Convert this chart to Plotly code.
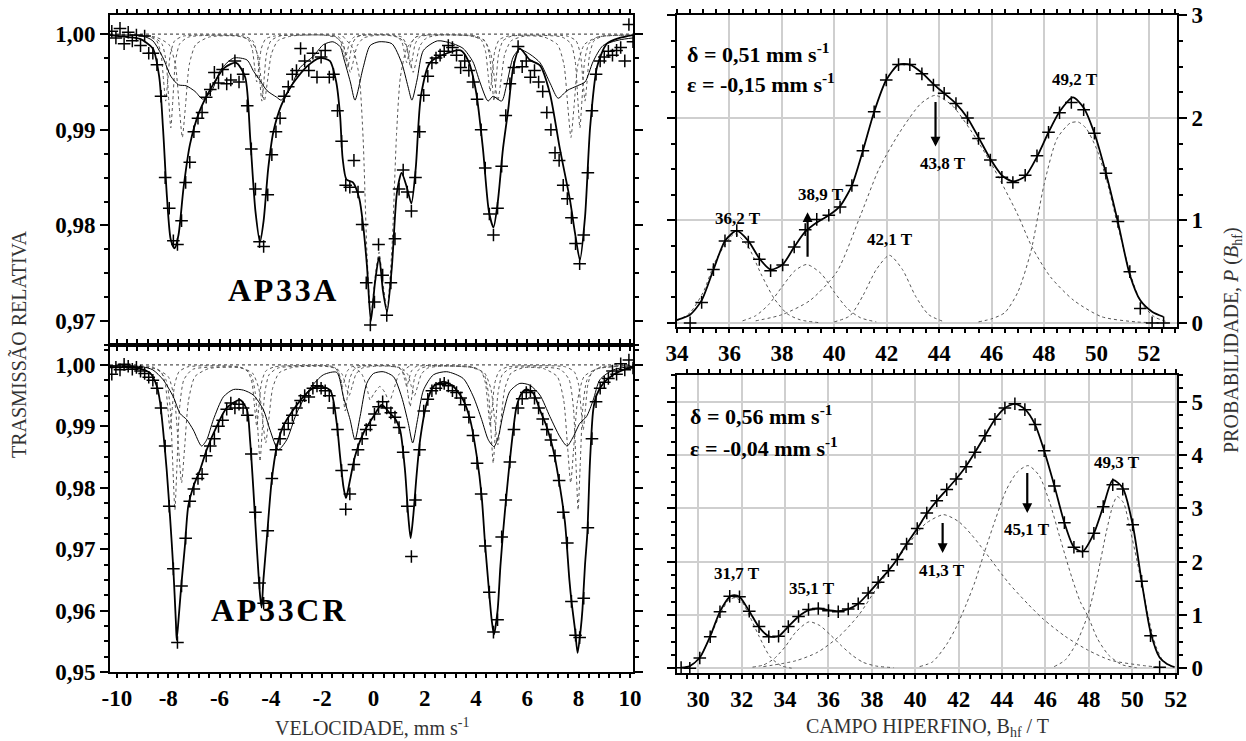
import plotly.graph_objects as go

# ---------------- Mossbauer spectra (velocity channels, mm/s) ----------------
V_CH = [-10.2, -10.04, -9.88, -9.72, -9.56, -9.4, -9.24, -9.08, -8.92, -8.76,
        -8.6, -8.44, -8.28, -8.12, -7.96, -7.8, -7.64, -7.48, -7.32, -7.16,
        -7.0, -6.84, -6.68, -6.52, -6.36, -6.2, -6.04, -5.88, -5.72, -5.56,
        -5.4, -5.24, -5.08, -4.92, -4.76, -4.6, -4.44, -4.28, -4.12, -3.96,
        -3.8, -3.64, -3.48, -3.32, -3.16, -3.0, -2.84, -2.68, -2.52, -2.36,
        -2.2, -2.04, -1.88, -1.72, -1.56, -1.4, -1.24, -1.08, -0.92, -0.76,
        -0.6, -0.44, -0.28, -0.12, 0.04, 0.2, 0.36, 0.52, 0.68, 0.84,
        1.0, 1.16, 1.32, 1.48, 1.64, 1.8, 1.96, 2.12, 2.28, 2.44,
        2.6, 2.76, 2.92, 3.08, 3.24, 3.4, 3.56, 3.72, 3.88, 4.04,
        4.2, 4.36, 4.52, 4.68, 4.84, 5.0, 5.16, 5.32, 5.48, 5.64,
        5.8, 5.96, 6.12, 6.28, 6.44, 6.6, 6.76, 6.92, 7.08, 7.24,
        7.4, 7.56, 7.72, 7.88, 8.04, 8.2, 8.36, 8.52, 8.68, 8.84,
        9.0, 9.16, 9.32, 9.48, 9.64, 9.8, 9.96, 10.12]

T_AP33A = [1.0003, .9996, 1.0006, .9990, 1.0002, .9993, .9999, .9988, .9998, .9980,
           .9980, .9968, .9935, .9850, .9818, .9784, .9780, .9805, .9845, .9866,
           .9898, .9912, .9918, .9934, .9942, .9960, .9949, .9963, .9948, .9952,
           .9972, .9950, .9958, .9925, .9880, .9838, .9783, .9778, .9832, .9874,
           .9898, .9912, .9935, .9945, .9958, .9962, .9985, .9972, .9962, .9980,
           .9955, .9976, .9983, .9955, .9958, .9920, .9888, .9842, .9840, .9868,
           .9835, .9801, .9740, .9696, .9720, .9780, .9748, .9706, .9740, .9786,
           .9838, .9858, .9835, .9815, .9850, .9898, .9936, .9956, .9970, .9975,
           .9978, .9982, .9988, .9986, .9978, .9965, .9972, .9962, .9950, .9932,
           .9900, .9860, .9812, .9790, .9818, .9862, .9915, .9948, .9965, .9987,
           .9966, .9972, .9955, .9962, .9950, .9940, .9918, .9900, .9876, .9868,
           .9842, .9828, .9808, .9781, .9760, .9790, .9855, .9920, .9958, .9972,
           .9976, .9982, .9978, .9983, .9986, .9972, 1.0010, .9992]

T_AP33CR = [.9985, .9996, .9992, 1.0001, .9998, .9993, .9996, .9990, .9986, .9980,
            .9975, .9962, .9930, .9868, .9770, .9668, .9548, .9640, .9718, .9778,
            .9798, .9815, .9822, .9852, .9868, .9880, .9900, .9910, .9928, .9938,
            .9930, .9936, .9930, .9918, .9855, .9760, .9645, .9612, .9730, .9815,
            .9862, .9880, .9895, .9905, .9918, .9930, .9942, .9950, .9948, .9962,
            .9966, .9962, .9958, .9950, .9930, .9895, .9828, .9765, .9790, .9838,
            .9862, .9880, .9895, .9902, .9920, .9932, .9940, .9930, .9922, .9915,
            .9898, .9858, .9770, .9688, .9780, .9862, .9925, .9944, .9958, .9962,
            .9968, .9970, .9966, .9958, .9955, .9946, .9935, .9915, .9885, .9840,
            .9790, .9705, .9630, .9565, .9585, .9720, .9780, .9842, .9895, .9930,
            .9945, .9955, .9958, .9946, .9930, .9912, .9895, .9878, .9852, .9812,
            .9760, .9710, .9615, .9560, .9556, .9620, .9735, .9880, .9940, .9962,
            .9972, .9978, .9990, .9985, 1.0002, .9992, 1.0008, .9995]

# total fits
FIT_A_V = [-10.27, -9.6, -9.1, -8.6, -8.35, -8.2, -8.05, -7.9, -7.75, -7.6, -7.4, -7.15, -6.8,
           -6.3, -5.8, -5.35, -5.0, -4.8, -4.6, -4.42, -4.28, -4.1, -3.9, -3.6, -3.2, -2.6,
           -2.1, -1.7, -1.45, -1.3, -1.2, -1.05, -0.8, -0.55, -0.4, -0.25, -0.1, 0.06, 0.22,
           0.37, 0.53, 0.72, 0.92, 1.1, 1.3, 1.48, 1.65, 1.85, 2.2, 2.87, 3.4, 3.7, 4.0,
           4.27, 4.5, 4.68, 4.85, 5.05, 5.25, 5.45, 5.7, 6.1, 6.5, 6.88, 7.27, 7.66, 7.86,
           8.05, 8.25, 8.45, 8.72, 9.1, 9.6, 10.12]
FIT_A_T = [.9999, .9997, .9995, .9985, .9955, .9900, .9830, .9785, .9776, .9790, .9840, .9885, .9918,
           .9945, .9965, .9970, .9955, .9890, .9815, .9783, .9805, .9860, .9898, .9925, .9946, .9966,
           .9975, .9972, .9950, .9915, .9870, .9848, .9845, .9828, .9800, .9757, .9700, .9740, .9767,
           .9732, .9710, .9757, .9835, .9855, .9840, .9823, .9860, .9935, .9970, .9980, .9983, .9972, .9940,
           .9880, .9815, .9798, .9825, .9880, .9920, .9965, .9985, .9973, .9967, .9938, .9880, .9827, .9792,
           .9764, .9809, .9903, .9966, .9990, .9996, .9999]

FIT_CR_V = [-10.27, -9.2, -8.71, -8.44, -8.32, -8.2, -8.06, -7.93, -7.8, -7.7, -7.67, -7.58, -7.48,
            -7.35, -7.22, -7.02, -6.76, -6.5, -6.11, -5.72, -5.2, -4.93, -4.81, -4.68, -4.55, -4.42,
            -4.36, -4.29, -4.16, -3.97, -3.77, -3.52, -3.12, -2.6, -2.21, -1.69, -1.43, -1.3, -1.17,
            -1.07, -0.91, -0.72, -0.39, 0.0, 0.32, 0.65, 0.84, 1.04, 1.23, 1.36, 1.45, 1.55, 1.69,
            1.82, 2.08, 2.34, 2.73, 3.12, 3.5, 3.77, 4.03, 4.22, 4.35, 4.48, 4.61, 4.7, 4.84, 4.95,
            5.06, 5.19, 5.32, 5.45, 5.58, 5.78, 5.97, 6.23, 6.49, 6.75, 7.01, 7.27, 7.47, 7.64, 7.73,
            7.86, 7.96, 8.08, 8.15, 8.25, 8.34, 8.44, 8.57, 8.7, 8.96, 9.35, 9.74, 10.12]
FIT_CR_T = [.9997, .9995, .9987, .9965, .9940, .9894, .9829, .9753, .9667, .9580, .9552, .9595, .9646,
            .9705, .9770, .9802, .9829, .9862, .9900, .9930, .9943, .9927, .9878, .9797, .9705, .9625,
            .9605, .9650, .9715, .9810, .9866, .9900, .9927, .9954, .9965, .9959, .9905, .9851, .9802,
            .9783, .9813, .9851, .9889, .9916, .9935, .9921, .9913, .9894, .9829, .9753, .9718, .9753, .9824,
            .9878, .9938, .9965, .9973, .9965, .9943, .9911, .9851, .9786, .9710, .9645, .9585, .9561, .9600, .9672,
            .9730, .9790, .9845, .9894, .9932, .9954, .9960, .9954, .9927, .9900, .9862, .9802, .9743, .9650, .9612,
            .9569, .9531, .9569, .9602, .9675, .9726, .9840, .9927, .9951, .9970, .9984, .9992, .9997]

# broad (distribution) sub-spectra, thin solid
DIST_A_V = [-10.27, -9.0, -8.6, -8.2, -7.9, -7.6, -7.3, -6.95, -6.65, -6.3, -5.95, -5.45, -4.93, -4.67,
            -4.48, -4.15, -3.77, -3.6, -3.25, -2.86, -2.34, -1.95, -1.58, -1.3, -1.15, -0.9, -0.72, -0.4,
            -0.13, 0.22, 0.72, 1.1, 1.35, 1.5, 1.7, 1.95, 2.5, 3.1, 3.5, 3.88, 4.15, 4.47, 4.66, 5.0, 5.2,
            5.45, 5.7, 6.1, 6.5, 6.9, 7.2, 7.55, 7.95, 8.25, 8.56, 8.95, 9.6, 10.12]
DIST_A_T = [.9999, .9998, .9993, .9975, .9956, .9947, .9946, .9940, .9932, .9941, .9963, .9975, .9973, .9961,
            .9954, .9941, .9934, .9931, .9943, .9965, .9977, .9989, .9992, .9987, .9974, .9950, .9931, .9965,
            .9988, .9992, .9990, .9970, .9945, .9931, .9952, .9983, .9993, .9990, .9985, .9971, .9950, .9930,
            .9935, .9930, .9948, .9976, .9984, .9979, .9970, .9948, .9933, .9941, .9946, .9950, .9971, .9988,
            .9994, .9996]

DIST_CR_V = [-10.27, -9.0, -8.6, -8.2, -7.8, -7.54, -7.28, -7.02, -6.7, -6.5, -6.24, -5.85, -5.46, -5.07,
             -4.68, -4.29, -4.03, -3.71, -3.38, -3.0, -2.47, -1.95, -1.43, -1.17, -0.91, -0.72, -0.52, -0.26,
             0.0, 0.38, 0.78, 1.1, 1.36, 1.53, 1.72, 1.95, 2.34, 2.86, 3.5, 3.9, 4.22, 4.48, 4.7, 4.87, 5.06,
             5.32, 5.71, 6.1, 6.49, 6.88, 7.27, 7.55, 7.79, 8.05, 8.31, 8.57, 8.83, 9.35, 10.12]
DIST_CR_T = [.9999, .9997, .9992, .9976, .9948, .9921, .9911, .9894, .9868, .9878, .9911, .9948, .9960, .9959,
             .9951, .9927, .9894, .9862, .9878, .9921, .9962, .9984, .9988, .9948, .9911, .9878, .9916, .9970,
             .9986, .9989, .9981, .9948, .9905, .9873, .9911, .9959, .9984, .9989, .9978, .9948, .9911, .9878,
             .9867, .9883, .9921, .9957, .9970, .9967, .9951, .9916, .9883, .9868, .9883, .9905, .9916, .9943,
             .9976, .9992, .9998]

# crystalline sextets and doublet, dotted
A_S1_V = [-10.27, -8.8, -8.45, -8.28, -8.18, -8.1, -8.02, -7.92, -7.75, -7.4,
          -5.25, -4.9, -4.73, -4.63, -4.55, -4.47, -4.37, -4.2, -3.85,
          -1.8, -1.45, -1.28, -1.18, -1.1, -1.02, -0.92, -0.75, -0.4,
          0.6, 0.95, 1.12, 1.22, 1.3, 1.38, 1.48, 1.65, 2.0,
          3.85, 4.2, 4.37, 4.47, 4.55, 4.63, 4.73, 4.9, 5.25,
          7.55, 7.9, 8.07, 8.17, 8.25, 8.33, 8.43, 8.6, 8.95, 10.12]
A_S1_T = [.9999, .9998, .9993, .9979, .9951, .9930, .9951, .9979, .9993, .9998,
          .9998, .9995, .9985, .9965, .9950, .9965, .9985, .9995, .9998,
          .9999, .9997, .9992, .9982, .9975, .9982, .9992, .9997, .9999,
          .9999, .9997, .9991, .9979, .9970, .9979, .9991, .9997, .9999,
          .9998, .9994, .9982, .9958, .9940, .9958, .9982, .9994, .9998,
          .9998, .9993, .9979, .9951, .9930, .9951, .9979, .9993, .9998, .9999]
A_S2_V = [-10.27, -8.6, -8.25, -8.08, -7.98, -7.9, -7.82, -7.72, -7.55, -7.2,
          -5.05, -4.7, -4.53, -4.43, -4.35, -4.27, -4.17, -4.0, -3.65,
          -1.7, -1.35, -1.18, -1.08, -1.0, -0.92, -0.82, -0.65, -0.3,
          0.75, 1.1, 1.27, 1.37, 1.45, 1.53, 1.63, 1.8, 2.15,
          4.0, 4.35, 4.52, 4.62, 4.7, 4.78, 4.88, 5.05, 5.4,
          7.35, 7.7, 7.87, 7.97, 8.05, 8.13, 8.23, 8.4, 8.75, 10.12]
A_S2_T = [.9999, .9997, .9990, .9971, .9931, .9902, .9931, .9971, .9990, .9997,
          .9998, .9993, .9979, .9951, .9930, .9951, .9979, .9993, .9998,
          .9999, .9997, .9990, .9976, .9965, .9976, .9990, .9997, .9999,
          .9999, .9997, .9990, .9976, .9965, .9976, .9990, .9997, .9999,
          .9998, .9993, .9979, .9951, .9930, .9951, .9979, .9993, .9998,
          .9997, .9990, .9971, .9931, .9902, .9931, .9971, .9990, .9997, .9999]
A_S3_V = [-10.27, -8.5, -7.97, -7.72, -7.57, -7.45, -7.33, -7.18, -6.93, -6.4,
          -5.3, -4.77, -4.52, -4.37, -4.25, -4.13, -3.98, -3.73, -3.2,
          -1.95, -1.42, -1.17, -1.02, -0.9, -0.78, -0.63, -0.38, 0.15,
          0.5, 1.03, 1.28, 1.43, 1.55, 1.67, 1.82, 2.07, 2.6,
          3.8, 4.33, 4.58, 4.73, 4.85, 4.97, 5.12, 5.37, 5.9,
          6.65, 7.18, 7.43, 7.58, 7.7, 7.82, 7.97, 8.22, 8.75, 10.12]
A_S3_T = [.9999, .9997, .9989, .9968, .9924, .9892, .9924, .9968, .9989, .9997,
          .9998, .9993, .9979, .9951, .9930, .9951, .9979, .9993, .9998,
          .9999, .9996, .9988, .9972, .9960, .9972, .9988, .9996, .9999,
          .9999, .9996, .9988, .9972, .9960, .9972, .9988, .9996, .9999,
          .9998, .9993, .9979, .9951, .9930, .9951, .9979, .9993, .9998,
          .9997, .9989, .9968, .9924, .9892, .9924, .9968, .9989, .9997, .9999]
A_DB_V = [-1.2, -0.8, -0.55, -0.4, -0.25, -0.1, 0.06, 0.22, 0.37, 0.53, 0.72, 0.9, 1.05, 1.3, 1.7]
A_DB_T = [.9998, .9985, .9955, .9890, .9770, .9705, .9745, .9772, .9740, .9712, .9775, .9895, .9955, .9985, .9998]

CR_S1_V = [-10.27, -8.63, -8.28, -8.11, -8.01, -7.93, -7.85, -7.75, -7.58, -7.23,
           -5.25, -4.9, -4.73, -4.63, -4.55, -4.47, -4.37, -4.2, -3.85,
           -1.9, -1.55, -1.38, -1.28, -1.2, -1.12, -1.02, -0.85, -0.5,
           0.6, 0.95, 1.12, 1.22, 1.3, 1.38, 1.48, 1.65, 2.0,
           3.85, 4.2, 4.37, 4.47, 4.55, 4.63, 4.73, 4.9, 5.25,
           7.48, 7.83, 8.0, 8.1, 8.18, 8.26, 8.36, 8.53, 8.88, 10.12]
CR_S1_T = [.9999, .9997, .9989, .9968, .9926, .9894, .9926, .9968, .9989, .9997,
           .9997, .9990, .9970, .9930, .9900, .9930, .9970, .9990, .9997,
           .9999, .9997, .9990, .9976, .9965, .9976, .9990, .9997, .9999,
           .9999, .9997, .9990, .9976, .9965, .9976, .9990, .9997, .9999,
           .9997, .9990, .9970, .9930, .9900, .9930, .9970, .9990, .9997,
           .9997, .9989, .9968, .9926, .9894, .9926, .9968, .9989, .9997, .9999]
CR_S2_V = [-10.27, -8.44, -8.09, -7.92, -7.82, -7.74, -7.66, -7.56, -7.39, -7.04,
           -5.12, -4.77, -4.6, -4.5, -4.42, -4.34, -4.24, -4.07, -3.72,
           -1.8, -1.45, -1.28, -1.18, -1.1, -1.02, -0.92, -0.75, -0.4,
           0.73, 1.08, 1.25, 1.35, 1.43, 1.51, 1.61, 1.78, 2.13,
           3.97, 4.32, 4.49, 4.59, 4.67, 4.75, 4.85, 5.02, 5.37,
           7.28, 7.63, 7.8, 7.9, 7.98, 8.06, 8.16, 8.33, 8.68, 10.12]
CR_S2_T = [.9999, .9993, .9976, .9929, .9835, .9764, .9835, .9929, .9976, .9993,
           .9995, .9984, .9953, .9890, .9843, .9890, .9953, .9984, .9995,
           .9998, .9993, .9978, .9948, .9925, .9948, .9978, .9993, .9998,
           .9998, .9993, .9980, .9952, .9932, .9952, .9980, .9993, .9998,
           .9995, .9984, .9952, .9888, .9840, .9888, .9952, .9984, .9995,
           .9993, .9976, .9929, .9835, .9764, .9835, .9929, .9976, .9993, .9999]
CR_S3_V = [-10.27, -8.53, -8.0, -7.75, -7.6, -7.48, -7.36, -7.21, -6.96, -6.43,
           -5.25, -4.72, -4.47, -4.32, -4.2, -4.08, -3.93, -3.68, -3.15,
           -2.0, -1.47, -1.22, -1.07, -0.95, -0.83, -0.68, -0.43, 0.1,
           0.55, 1.08, 1.33, 1.48, 1.6, 1.72, 1.87, 2.12, 2.65,
           3.8, 4.33, 4.58, 4.73, 4.85, 4.97, 5.12, 5.37, 5.9,
           6.64, 7.17, 7.42, 7.57, 7.69, 7.81, 7.96, 8.21, 8.74, 10.12]
CR_S3_T = [.9999, .9994, .9981, .9942, .9866, .9808, .9866, .9942, .9981, .9994,
           .9996, .9987, .9962, .9911, .9873, .9911, .9962, .9987, .9996,
           .9998, .9995, .9985, .9965, .9950, .9965, .9985, .9995, .9998,
           .9998, .9995, .9985, .9965, .9950, .9965, .9985, .9995, .9998,
           .9996, .9987, .9961, .9909, .9870, .9909, .9961, .9987, .9996,
           .9994, .9981, .9942, .9866, .9808, .9866, .9942, .9981, .9994, .9999]
CR_DB_V = [-0.8, -0.45, -0.25, -0.13, 0.0, 0.25, 0.45, 0.62, 0.78, 1.0, 1.4]
CR_DB_T = [.9998, .9985, .9962, .9943, .9952, .9965, .9955, .9940, .9958, .9985, .9998]

# ---------------- hyperfine field distributions ----------------
PA_B = [34.5, 34.94, 35.39, 35.83, 36.28, 36.72, 37.14, 37.57, 38.03, 38.47, 38.89, 39.33, 39.79,
        40.22, 40.67, 41.09, 41.52, 41.98, 42.45, 42.88, 43.34, 43.78, 44.19, 44.64, 45.08, 45.5,
        45.95, 46.39, 46.81, 47.28, 47.73, 48.17, 48.59, 49.04, 49.51, 49.92, 50.36, 50.82, 51.27,
        51.67, 52.12, 52.56]
PA_P = [0.0, 0.2, 0.52, 0.80, 0.90, 0.79, 0.62, 0.51, 0.565, 0.74, 0.91, 1.01, 1.05,
        1.13, 1.34, 1.68, 2.06, 2.37, 2.52, 2.52, 2.43, 2.32, 2.24, 2.14, 2.0, 1.80,
        1.59, 1.42, 1.37, 1.44, 1.63, 1.86, 2.05, 2.15, 2.08, 1.85, 1.46, 0.99, 0.50,
        0.14, 0.0, 0.0]
PA_FIT_B = [34.0, 34.5, 34.94, 35.39, 35.83, 36.28, 36.72, 37.14, 37.57, 38.03, 38.47, 38.89, 39.33,
            39.79, 40.22, 40.67, 41.09, 41.52, 41.98, 42.45, 42.88, 43.34, 43.78, 44.19, 44.64, 45.08,
            45.5, 45.95, 46.39, 46.81, 47.28, 47.73, 48.17, 48.59, 49.1, 49.51, 49.92, 50.36, 50.82,
            51.27, 51.67, 52.12, 52.55]
PA_FIT_P = [0.03, 0.08, 0.22, 0.52, 0.80, 0.90, 0.80, 0.63, 0.52, 0.57, 0.74, 0.89, 0.98,
            1.05, 1.14, 1.34, 1.68, 2.06, 2.37, 2.52, 2.52, 2.44, 2.33, 2.24, 2.14, 2.0,
            1.81, 1.60, 1.44, 1.38, 1.43, 1.62, 1.86, 2.06, 2.20, 2.1, 1.85, 1.46, 0.98,
            0.47, 0.22, 0.11, 0.06]
GA1_B = [34.0, 34.5, 35.0, 35.5, 36.2, 36.7, 37.2, 37.7, 38.2, 38.7, 39.5]
GA1_P = [0.02, 0.1, 0.3, 0.62, 0.87, 0.75, 0.48, 0.24, 0.09, 0.03, 0.0]
GA2_B = [36.5, 37.0, 37.5, 38.0, 38.5, 38.95, 39.5, 40.0, 40.5, 41.0, 41.6]
GA2_P = [0.02, 0.07, 0.18, 0.35, 0.51, 0.57, 0.48, 0.3, 0.14, 0.05, 0.01]
GA3_B = [40.0, 40.6, 41.1, 41.6, 42.1, 42.6, 43.1, 43.6, 44.2]
GA3_P = [0.01, 0.07, 0.27, 0.52, 0.66, 0.52, 0.26, 0.08, 0.01]
GA4_B = [37.0, 38.0, 39.08, 40.1, 41.0, 41.7, 42.47, 43.3, 43.85, 44.5, 45.2, 45.95, 46.97, 47.54,
         48.24, 49.13, 50.2, 51.5, 52.5]
GA4_P = [0.02, 0.08, 0.22, 0.5, 1.05, 1.5, 1.85, 2.14, 2.22, 2.12, 1.88, 1.57, 1.07, 0.74,
         0.45, 0.22, 0.06, 0.01, 0.0]
GA5_B = [45.5, 46.0, 46.5, 47.0, 47.5, 48.0, 48.5, 49.0, 49.3, 49.6, 50.0, 50.4, 50.8, 51.3, 51.7,
         52.2, 52.7]
GA5_P = [0.01, 0.04, 0.1, 0.3, 0.7, 1.35, 1.8, 1.95, 1.96, 1.9, 1.7, 1.38, 0.96, 0.47, 0.2,
         0.06, 0.01]

PC_B = [29.21, 29.61, 30.07, 30.55, 31.0, 31.45, 31.9, 32.35, 32.8, 33.25, 33.7, 34.15, 34.62,
        35.08, 35.53, 36.0, 36.45, 36.91, 37.37, 37.83, 38.29, 38.76, 39.17, 39.6, 40.09, 40.53,
        40.99, 41.45, 41.88, 42.34, 42.75, 43.21, 43.67, 44.13, 44.59, 45.05, 45.52, 45.94, 46.41,
        46.87, 47.31, 47.71, 48.23, 48.66, 49.1, 49.56, 50.02, 50.43, 50.84, 51.26]
PC_P = [0.01, 0.0, 0.19, 0.59, 1.06, 1.35, 1.34, 1.07, 0.78, 0.59, 0.6, 0.78, 0.97,
        1.10, 1.12, 1.08, 1.06, 1.11, 1.21, 1.41, 1.61, 1.83, 2.04, 2.33, 2.62, 2.91,
        3.14, 3.35, 3.55, 3.78, 4.05, 4.36, 4.67, 4.88, 4.96, 4.85, 4.57, 4.08, 3.42,
        2.73, 2.27, 2.19, 2.53, 3.03, 3.44, 3.36, 2.69, 1.63, 0.61, 0.02]
PC_FIT_B = [29.21, 29.61, 30.07, 30.55, 31.0, 31.45, 31.65, 31.9, 32.35, 32.8, 33.25, 33.7, 34.15,
            34.62, 35.08, 35.53, 36.0, 36.45, 36.91, 37.37, 37.83, 38.29, 38.76, 39.17, 39.6, 40.09,
            40.53, 40.99, 41.45, 41.88, 42.34, 42.75, 43.21, 43.67, 44.13, 44.59, 45.05, 45.52, 45.94,
            46.41, 46.87, 47.31, 47.71, 48.23, 48.66, 49.1, 49.56, 50.02, 50.43, 50.84, 51.26, 51.6, 51.95]
PC_FIT_P = [0.01, 0.04, 0.2, 0.6, 1.06, 1.34, 1.37, 1.34, 1.07, 0.77, 0.6, 0.6, 0.78,
            0.97, 1.09, 1.12, 1.09, 1.07, 1.11, 1.21, 1.40, 1.61, 1.83, 2.05, 2.33, 2.62,
            2.9, 3.14, 3.35, 3.55, 3.79, 4.05, 4.36, 4.67, 4.88, 4.96, 4.86, 4.57, 4.08,
            3.42, 2.73, 2.27, 2.19, 2.53, 3.03, 3.53, 3.38, 2.69, 1.63, 0.68, 0.2, 0.08, 0.02]
GC1_B = [29.5, 30.0, 30.5, 31.0, 31.4, 31.7, 32.0, 32.4, 32.8, 33.3, 33.8, 34.3]
GC1_P = [0.02, 0.15, 0.55, 1.0, 1.28, 1.32, 1.25, 0.95, 0.6, 0.22, 0.05, 0.0]
GC2_B = [32.5, 33.0, 33.5, 34.0, 34.5, 35.1, 35.6, 36.1, 36.6, 37.1, 37.6, 38.2, 39.0]
GC2_P = [0.02, 0.06, 0.18, 0.4, 0.68, 0.87, 0.8, 0.62, 0.42, 0.24, 0.11, 0.04, 0.01]
GC3_B = [33.0, 34.5, 35.5, 36.5, 37.4, 38.3, 39.1, 39.6, 40.1, 40.5, 41.3, 42.0, 42.6, 43.2, 44.3,
         45.2, 45.9, 46.9, 47.95, 49.0, 50.5, 51.5]
GC3_P = [0.03, 0.14, 0.3, 0.6, 1.0, 1.55, 2.0, 2.28, 2.55, 2.72, 2.88, 2.75, 2.5, 2.19, 1.6,
         1.2, 0.92, 0.6, 0.34, 0.15, 0.05, 0.01]
GC4_B = [40.2, 40.8, 41.45, 41.9, 42.35, 42.75, 43.2, 43.7, 44.2, 44.7, 45.2, 45.7, 46.2, 46.7, 47.2,
         47.6, 47.95, 48.4, 48.9, 49.5, 50.2]
GC4_P = [0.03, 0.12, 0.45, 0.78, 1.2, 1.62, 2.19, 2.8, 3.35, 3.68, 3.8, 3.62, 3.1, 2.4, 1.72,
         1.25, 0.98, 0.55, 0.25, 0.07, 0.01]
GC5_B = [46.4, 46.9, 47.4, 47.95, 48.4, 48.8, 49.1, 49.3, 49.6, 49.9, 50.2, 50.5, 50.8, 51.1, 51.4, 51.8]
GC5_P = [0.03, 0.15, 0.45, 1.0, 1.75, 2.55, 3.05, 3.22, 3.1, 2.6, 2.05, 1.45, 0.85, 0.4, 0.15, 0.03]

# ---------------- ticks ----------------
VEL_TICKS = [-10, -8, -6, -4, -2, 0, 2, 4, 6, 8, 10]
VEL_LABELS = ['-10', '-8', '-6', '-4', '-2', '0', '2', '4', '6', '8', '10']
TA_TICKS = [0.97, 0.98, 0.99, 1.00]
TA_LABELS = ['0,97', '0,98', '0,99', '1,00']
TC_TICKS = [0.95, 0.96, 0.97, 0.98, 0.99, 1.00]
TC_LABELS = ['0,95', '0,96', '0,97', '0,98', '0,99', '1,00']
BA_TICKS = [34, 36, 38, 40, 42, 44, 46, 48, 50, 52]
BC_TICKS = [30, 32, 34, 36, 38, 40, 42, 44, 46, 48, 50, 52]
PA_TICKS = [0, 1, 2, 3]
PC_TICKS = [0, 1, 2, 3, 4, 5]

FONT = 'Liberation Serif'
fig = go.Figure()


def curve(x, y, ax, width=1.0, dash='solid', color='black', smooth=0.7):
    fig.add_trace(go.Scatter(x=x, y=y, mode='lines', xaxis='x' + ax, yaxis='y' + ax,
                             line=dict(color=color, width=width, dash=dash, shape='spline', smoothing=smooth),
                             hoverinfo='skip', showlegend=False))


def crosses(x, y, ax):
    fig.add_trace(go.Scatter(x=x, y=y, mode='markers', xaxis='x' + ax, yaxis='y' + ax,
                             marker=dict(symbol='cross-thin', size=9, line=dict(width=1.5, color='black')),
                             hoverinfo='skip', showlegend=False))


DOT = '#555555'
# top-left: AP33A
for xv, yv in [(A_S1_V, A_S1_T), (A_S2_V, A_S2_T), (A_S3_V, A_S3_T), (A_DB_V, A_DB_T)]:
    curve(xv, yv, '', 1.0, 'dot', DOT, 0.6)
curve(DIST_A_V, DIST_A_T, '', 1.0)
curve(FIT_A_V, FIT_A_T, '', 1.8)
crosses(V_CH, T_AP33A, '')

# bottom-left: AP33CR
for xv, yv in [(CR_S1_V, CR_S1_T), (CR_S2_V, CR_S2_T), (CR_S3_V, CR_S3_T), (CR_DB_V, CR_DB_T)]:
    curve(xv, yv, '2', 1.0, 'dot', DOT, 0.6)
curve(DIST_CR_V, DIST_CR_T, '2', 1.0)
curve(FIT_CR_V, FIT_CR_T, '2', 1.8)
crosses(V_CH, T_AP33CR, '2')

# top-right: P(Bhf) AP33A
for xv, yv in [(GA1_B, GA1_P), (GA2_B, GA2_P), (GA3_B, GA3_P), (GA4_B, GA4_P), (GA5_B, GA5_P)]:
    curve(xv, yv, '3', 1.0, 'dot', DOT)
curve(PA_FIT_B, PA_FIT_P, '3', 1.8)
crosses(PA_B, PA_P, '3')

# bottom-right: P(Bhf) AP33CR
for xv, yv in [(GC1_B, GC1_P), (GC2_B, GC2_P), (GC3_B, GC3_P), (GC4_B, GC4_P), (GC5_B, GC5_P)]:
    curve(xv, yv, '4', 1.0, 'dot', DOT)
curve(PC_FIT_B, PC_FIT_P, '4', 1.8)
crosses(PC_B, PC_P, '4')

W, H = 1246, 741


def fx(px):
    return px / W


def fy(py):
    return 1 - py / H


XL = [fx(110), fx(633)]
XR = [fx(677), fx(1177)]
tickfont = dict(family=FONT, size=23, color='black', weight='bold')


def axis(domain, anchor, rng, tickvals, ticktext, minor_dt, showlabels=True, grid=False, side=None, ticklen=8):
    d = dict(domain=domain, anchor=anchor, range=rng, tickmode='array', tickvals=tickvals,
             ticktext=ticktext, showticklabels=showlabels, showline=True, linecolor='black',
             linewidth=2, mirror='ticks', ticks='outside', ticklen=ticklen, tickwidth=2,
             tickcolor='black', zeroline=False, showgrid=grid, gridcolor='#cfcfcf', gridwidth=1.5,
             tickfont=tickfont, automargin=False,
             minor=dict(tickmode='linear', tick0=0, dtick=minor_dt, ticks='outside', ticklen=min(4, ticklen),
                        tickwidth=1.5, tickcolor='black', showgrid=False))
    if side:
        d['side'] = side
    return d


fig.update_layout(
    width=W, height=H, autosize=False, margin=dict(l=0, r=0, t=0, b=0, pad=0),
    paper_bgcolor='white', plot_bgcolor='white', showlegend=False,
    xaxis=axis(XL, 'y', [-10.27, 10.12], VEL_TICKS, VEL_LABELS, 0.4, showlabels=False, ticklen=4),
    yaxis=axis([fy(345), fy(15)], 'x', [0.9675, 1.002], TA_TICKS, TA_LABELS, 0.0025),
    xaxis2=axis(XL, 'y2', [-10.27, 10.12], VEL_TICKS, VEL_LABELS, 0.4, ticklen=4),
    yaxis2=axis([fy(672), fy(345)], 'x2', [0.95, 1.00325], TC_TICKS, TC_LABELS, 0.0025),
    xaxis3=axis(XR, 'y3', [34.0, 53.07], BA_TICKS, [str(v) for v in BA_TICKS], 0.5, grid=True, ticklen=4),
    yaxis3=axis([fy(327), fy(15)], 'x3', [-0.04, 3.004], PA_TICKS, [str(v) for v in PA_TICKS],
                0.25, grid=True, side='right'),
    xaxis4=axis(XR, 'y4', [29.02, 52.06], BC_TICKS, [str(v) for v in BC_TICKS], 0.5, grid=True, ticklen=4),
    yaxis4=axis([fy(673), fy(375)], 'x4', [-0.09, 5.5], PC_TICKS, [str(v) for v in PC_TICKS],
                0.25, grid=True, side='right'),
)
fig.update_yaxes(ticklabeloverflow='allow')

# baselines
for xr, yr, yv, dash in [('x', 'y', 1.0, 'dot'), ('x2', 'y2', 1.0, 'dot'), ('x3', 'y3', 0, 'solid'), ('x4', 'y4', 0, 'solid')]:
    fig.add_shape(type='line', xref=xr + ' domain', yref=yr, x0=0, x1=1, y0=yv, y1=yv,
                  line=dict(color='#333333' if dash == 'solid' else DOT, width=1.2, dash=dash), layer='below')

ann = []
title_font = dict(family=FONT, size=20, color='#333333')
for txt, px, py, ang in [('TRASMISSÃO RELATIVA', 18, 345, -90),
                         ('VELOCIDADE, mm s<sup>-1</sup>', 372, 727, 0),
                         ('CAMPO HIPERFINO, B<sub>hf</sub> / T', 927, 727, 0),
                         ('PROBABILIDADE, <i>P</i> (<i>B</i><sub>hf</sub>)', 1232, 340, -90)]:
    ann.append(dict(text=txt, x=fx(px), y=fy(py), xref='paper', yref='paper', xanchor='center',
                    yanchor='middle', textangle=ang, showarrow=False, font=title_font))

big = dict(family=FONT, size=32, color='black', weight='bold')
ann.append(dict(text='A\u200aP\u200a3\u200a3\u200aA', x=-3.56, y=0.97325, xref='x', yref='y',
                showarrow=False, font=big))
ann.append(dict(text='A\u200aP\u200a3\u200a3\u200aC\u200aR', x=-3.72, y=0.96016, xref='x2', yref='y2',
                showarrow=False, font=big))

par = dict(family=FONT, size=22, color='black', weight='bold')
for txt, x, y, ax in [('δ = 0,51 mm s<sup>-1</sup>', 34.31, 2.63, '3'),
                      ('ε = -0,15 mm s<sup>-1</sup>', 34.31, 2.34, '3'),
                      ('δ = 0,56 mm s<sup>-1</sup>', 29.53, 4.75, '4'),
                      ('ε = -0,04 mm s<sup>-1</sup>', 29.53, 4.15, '4')]:
    ann.append(dict(text=txt, x=x, y=y, xref='x' + ax, yref='y' + ax, xanchor='left',
                    showarrow=False, font=par))

lab = dict(family=FONT, size=17, color='black', weight='bold')
for txt, x, y, ax in [('36,2 T', 36.34, 1.02, '3'), ('38,9 T', 39.5, 1.25, '3'), ('42,1 T', 42.13, 0.81, '3'),
                      ('43,8 T', 44.15, 1.56, '3'), ('49,2 T', 49.17, 2.37, '3'),
                      ('31,7 T', 31.77, 1.78, '4'), ('35,1 T', 35.23, 1.5, '4'), ('41,3 T', 41.22, 1.84, '4'),
                      ('45,1 T', 45.13, 2.6, '4'), ('49,3 T', 49.28, 3.85, '4')]:
    ann.append(dict(text=txt, x=x, y=y, xref='x' + ax, yref='y' + ax, showarrow=False, font=lab))

# arrows: (x, head y, tail y)
for x, yh, yt, ax in [(38.98, 1.08, 0.63, '3'), (43.86, 1.72, 2.17, '3'),
                      (41.26, 2.16, 2.75, '4'), (45.16, 2.91, 3.69, '4')]:
    ann.append(dict(text='', x=x, y=yh, ax=x, ay=yt, xref='x' + ax, yref='y' + ax,
                    axref='x' + ax, ayref='y' + ax, showarrow=True, arrowhead=2, arrowsize=0.9,
                    arrowwidth=2.2, arrowcolor='black'))

fig.update_layout(annotations=ann)
# drop the browser's default 8 px body margin so the figure fills the window exactly
fig.write_html('out.html', config={'displayModeBar': False},
               post_script="document.body.style.margin='0';")
